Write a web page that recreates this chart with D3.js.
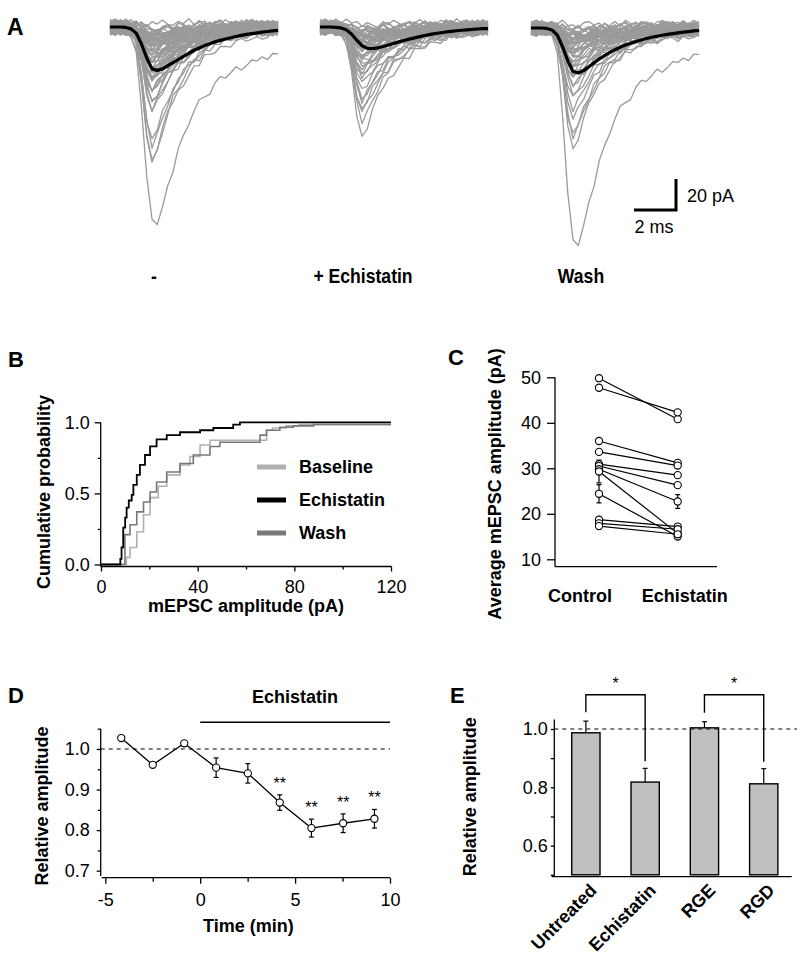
<!DOCTYPE html>
<html><head><meta charset="utf-8">
<script src="https://cdn.jsdelivr.net/npm/d3@7"></script>
<style>
body{margin:0;background:#fff}
svg text{font-family:"Liberation Sans",Arial,Helvetica,sans-serif;fill:#000}
</style></head><body>
<svg id="fig" width="800" height="957" xmlns="http://www.w3.org/2000/svg"></svg>
<script>
// ================= DATA =================
// Panel A: sample times (ms) of the mEPSC sweeps
const sweepTime = [0,0.25,0.5,0.75,1,1.25,1.5,1.75,2,2.25,2.5,2.75,3,3.25,3.5,3.75,4,4.25,4.5,4.75,5,5.25,5.5,5.75,6,6.25,6.5,6.75,7,7.25,7.5,7.75,8];
const sweepNames = ["-", "+ Echistatin", "Wash"];
// normalised waveforms of single events (fast and slow decaying)
const tplFast = [0,0,0,0,0.02,0.12,0.42,0.8,1,0.9,0.76,0.64,0.54,0.46,0.39,0.33,0.28,0.24,0.2,0.17,0.145,0.125,0.105,0.09,0.077,0.066,0.056,0.048,0.041,0.035,0.03,0.025,0.021];
const tplSlow = [0,0,0,0,0.02,0.12,0.4,0.78,0.98,1,0.92,0.82,0.72,0.63,0.55,0.48,0.42,0.38,0.34,0.31,0.28,0.26,0.24,0.22,0.2,0.19,0.18,0.17,0.16,0.15,0.14,0.13,0.12];
// average traces (pA, inward positive)
const meanBaseline   = [0,0,0,0.3,1.2,4,11,20,27,28,27,25,23,21,19,17,15,13.5,12,10.8,9.6,8.6,7.7,6.9,6.1,5.4,4.8,4.3,3.8,3.3,2.9,2.5,2.2];
const meanEchistatin = [0,0,0,0.2,0.6,1.8,4.5,8.5,12,13.8,14,13.5,12.6,11.6,10.6,9.6,8.7,7.8,7,6.2,5.5,4.8,4.2,3.7,3.2,2.8,2.4,2.1,1.8,1.5,1.3,1.1,1];
const meanWash       = [0,0,0,0.3,1.3,4.5,12,21,28,29,27.5,25,22.5,20,17.8,15.8,14,12.4,11,9.8,8.7,7.7,6.8,6,5.3,4.7,4.1,3.6,3.1,2.7,2.3,1.9,1.6];
// single event peak amplitudes (pA)
const ampFastBaseline   = [1,2,2,3,3,3,4,4,4,5,5,5,6,6,6,7,7,8,8,8,9,9,10,10,11,11,12,12,13,13,14,14,15,16,16,17,18,18,19,20,21,22,23,24,25,26,27,28,29,30,31,32,34,35,36,38,40,41,44,45,47,50,55,72,78,82,92];
const ampSlowBaseline   = [124];
const ampFastEchistatin = [1,2,2,3,3,3,4,4,4,5,5,5,6,6,6,7,7,7,8,8,8,9,9,10,10,11,11,12,12,13,14,15,16,17,18,19,20,22,24,26,28,30,33,36,40,44,48,52,56,60,68];
const ampSlowEchistatin = [22];
const ampFastWash       = [1,2,2,3,3,3,4,4,4,5,5,5,6,6,7,7,8,8,9,9,10,10,11,11,12,13,13,14,15,16,17,18,19,20,21,22,24,26,28,30,32,35,38,42,46,50,60,66,72,77];
const ampSlowWash       = [28,139];
// recording noise (pA)
const noise = [
 [0.8,-0.6,1.4,0.2,-1.1,0.9,-0.4,1.7,-0.9,0.3,-1.5,0.6,1.2,-0.7,0.4,-1.8,0.9,0.1,-0.6,1.5,-0.3,0.7,-1.2,0.5,1.1,-0.8,0.2,-1.4,0.8,0.3,-0.5,1.3,-0.2],
 [-1.2,0.4,-0.3,1.6,0.7,-1.5,0.2,-0.8,1.3,-0.4,0.9,2.1,-0.6,1.0,-1.1,0.3,1.7,-0.5,0.6,-1.3,0.8,-0.2,1.4,-0.9,0.1,1.2,-1.6,0.5,-0.3,1.0,-1.0,0.4,0.9],
 [0.3,1.5,-0.9,-0.2,1.1,0.4,-1.7,0.6,0.2,1.8,-0.7,-1.2,0.5,-0.3,2.0,0.8,-0.9,1.4,-1.5,0.2,1.1,-0.8,0.4,1.6,-0.6,-1.1,0.9,0.3,-0.4,1.2,0.6,-1.3,0.2],
 [-0.5,-1.3,0.6,1.0,-0.4,-0.9,1.5,0.3,-1.2,-0.6,1.4,0.5,-1.8,0.7,0.9,-0.5,-1.3,2.2,0.4,-0.7,-1.6,1.3,0.6,-0.9,1.7,0.2,-1.1,-0.4,1.5,-0.8,0.7,0.1,-0.9],
 [1.4,0.2,-1.1,0.8,1.6,-0.3,0.7,-1.4,0.5,1.2,0.1,-0.9,1.9,-1.2,-0.2,1.3,0.4,-1.6,0.9,2.4,-0.4,-1.5,1.0,0.3,-0.7,1.8,0.6,-1.2,0.2,-0.9,1.4,-0.6,0.5],
 [-0.2,0.9,0.5,-1.4,0.3,1.2,-0.6,-0.1,1.6,-1.3,0.4,0.8,-0.7,-1.5,1.1,0.6,-0.4,-1.0,1.8,0.5,-1.2,0.9,-0.5,1.3,-1.4,0.4,1.5,-0.6,-1.1,0.7,-0.3,1.1,-0.8],
 [1.1,-1.4,0.2,0.7,-0.5,1.9,-1.1,0.4,-0.2,-1.7,1.2,0.3,-0.8,1.6,-1.4,0.5,0.9,-0.3,-1.2,1.0,1.7,-0.6,-0.9,0.2,1.3,-1.5,-0.2,1.1,0.6,-1.3,0.9,-0.4,1.2]
];
const baseOffset = [-3.2,1.8,-1.0,2.8,-2.2,0.6,2.2,-0.3,1.2,-1.6,3.4];
const noiseGain = 1.35;
const scaleBarMs = 2, scaleBarPA = 20;

// Panel B: cumulative distributions (amplitude pA, probability)
const cdfBaselineX   = [0,9.9,10.5,12,14.8,17.6,20.3,23.7,27.2,32.7,36.8,41,45.1,66,68.5,71,76.5,82,120];
const cdfBaselineP   = [0,0,0.05,0.12,0.23,0.35,0.47,0.55,0.63,0.70,0.76,0.84,0.874,0.874,0.944,0.96,0.975,0.985,0.985];
const cdfEchistatinX = [0,7.5,8,8.5,9.2,10,10.6,11.5,12.7,13.4,14.8,16.1,18.2,20.3,23,27.2,32.7,41,46.5,54.7,57.5,120];
const cdfEchistatinP = [0,0,0.04,0.12,0.26,0.33,0.40,0.45,0.49,0.56,0.63,0.70,0.77,0.83,0.88,0.91,0.93,0.944,0.96,0.984,1,1];
const cdfWashX       = [0,8.1,9.9,12,14.8,17.6,20.3,23,27.2,32.7,38.2,45.1,49.2,64.4,65.8,68.5,74,79.5,88,120];
const cdfWashP       = [0,0,0.21,0.28,0.37,0.44,0.51,0.58,0.65,0.71,0.77,0.83,0.86,0.86,0.91,0.944,0.965,0.975,0.985,0.985];
const cdfNames = ["Baseline","Echistatin","Wash"];
const cdfTicksX = [0,40,80,120], cdfTicksY = [0,0.5,1];

// Panel C: paired cell averages (pA)
const pairCategories = ["Control","Echistatin"];
const pairControl    = [49.8,47.7,36.0,33.6,30.9,30.5,29.8,29.3,24.4,18.7,17.9,17.3];
const pairEchistatin = [40.8,42.3,31.2,30.6,28.5,26.3,22.7,15.7,15.0,17.2,16.6,15.5];
const pairControlErr    = [0,0,0,0,0,0,0,2.5,2.0,0,0,0];
const pairEchistatinErr = [0,0,0,0,0,0,1.5,0,0,0,0,0];
const pairTicks = [10,20,30,40,50];

// Panel D: time course
const timeMin  = [-4.16,-2.5,-0.84,0.84,2.51,4.19,5.86,7.53,9.18];
const timeRel  = [1.027,0.961,1.014,0.954,0.940,0.868,0.805,0.817,0.828];
const timeErr  = [0.003,0.003,0.006,0.024,0.024,0.019,0.022,0.023,0.023];
const timeSig  = ["","","","","","**","**","**","**"];
const timeTicksX = [-5,0,5,10], timeTicksY = [0.7,0.8,0.9,1.0];
const drugPeriod = [0,10];

// Panel E: bar chart
const barCats = ["Untreated","Echistatin","RGE","RGD"];
const barVals = [0.987,0.818,1.004,0.812];
const barErr  = [0.040,0.047,0.021,0.052];
const barComparisons = [[0,1,"*"],[2,3,"*"]];
const barTicksY = [0.6,0.8,1.0];

// ================= DRAWING =================
const svg = d3.select("#fig");
const fmt1 = d3.format(".1f");
const fmtInt = d => String(d);
const AX = 1.3;

function clean(g, fs){
  g.select(".domain").remove();
  g.attr("font-size", null).attr("font-family", null);
  g.selectAll("line").attr("stroke","#000").attr("stroke-width",AX);
  g.selectAll("text").attr("font-size", fs||18).attr("fill","#000");
}
function label(x,y,txt,opt){
  opt = opt||{};
  const g = svg.append("g").attr("transform",
     `translate(${x},${y})` + (opt.rotate!==undefined ? ` rotate(${opt.rotate})` : "") +
     (opt.sx ? ` scale(${opt.sx},1)` : ""));
  return g.append("text").attr("x",0).attr("y",0).text(txt)
    .attr("font-size",opt.size||18).attr("font-weight",opt.weight||"bold")
    .attr("text-anchor",opt.anchor||"start");
}
function vline(x,y1,y2,w){svg.append("line").attr("x1",x).attr("x2",x).attr("y1",y1).attr("y2",y2).attr("stroke","#000").attr("stroke-width",w||AX);}
function hline(y,x1,x2,w,dash){const l=svg.append("line").attr("x1",x1).attr("x2",x2).attr("y1",y).attr("y2",y).attr("stroke","#000").attr("stroke-width",w||AX); if(dash) l.attr("stroke-dasharray",dash); return l;}
function errBar(x,y0,y1,cap){
  svg.append("line").attr("x1",x).attr("x2",x).attr("y1",y0).attr("y2",y1).attr("stroke","#000").attr("stroke-width",1.2);
  svg.append("line").attr("x1",x-cap).attr("x2",x+cap).attr("y1",y1).attr("y2",y1).attr("stroke","#000").attr("stroke-width",1.2);
}

// ---------- Panel A ----------
label(7,35,"A",{size:23});
const sweeps = [
  {fast:ampFastBaseline, slow:ampSlowBaseline, mean:meanBaseline},
  {fast:ampFastEchistatin, slow:ampSlowEchistatin, mean:meanEchistatin},
  {fast:ampFastWash, slow:ampSlowWash, mean:meanWash}
];
const sweepX0 = [110,320,531], sweepY0 = [27,27,28], sweepLabelX = [154,363,581];
const gA = svg.append("g");
let sx3, sy3;
sweeps.forEach((s,k)=>{
  const sx = d3.scaleLinear().domain([0,8]).range([sweepX0[k], sweepX0[k]+168]);
  const sy = d3.scaleLinear().domain([0,20]).range([sweepY0[k], sweepY0[k]+31]);
  if(k===2){sx3=sx; sy3=sy;}
  const line = d3.line().x((d,i)=>sx(sweepTime[i])).y(d=>sy(d));
  const events = s.fast.map(a=>({a,tpl:tplFast})).concat(s.slow.map(a=>({a,tpl:tplSlow})));
  events.forEach((e,i)=>{
    const nz = noise[(i+k) % noise.length], off = baseOffset[i % baseOffset.length];
    const vals = e.tpl.map((v,j)=> e.a*v + noiseGain*nz[j] + off);
    gA.append("path").attr("d",line(vals)).attr("fill","none")
      .attr("stroke","#9a9a9a").attr("stroke-width",1.3).attr("stroke-linejoin","round");
  });
  gA.append("path").attr("d",line(s.mean)).attr("fill","none")
    .attr("stroke","#000").attr("stroke-width",3.2).attr("stroke-linejoin","round");
  label(sweepLabelX[k],283,sweepNames[k],{size:20,anchor:"middle",sx:0.88});
});
// scale bar
{
  const xr = 676, yb = 210;
  const w = sx3(scaleBarMs)-sx3(0), h = sy3(scaleBarPA)-sy3(0);
  svg.append("path").attr("d",`M${xr-w},${yb}H${xr}V${yb-h}`).attr("fill","none")
     .attr("stroke","#000").attr("stroke-width",3);
  label(xr+11,201.7,`${scaleBarPA} pA`,{weight:"normal"});
  label(xr-w/2-1,233.3,`${scaleBarMs} ms`,{weight:"normal",anchor:"middle"});
}

// ---------- Panel B ----------
label(8,367,"B",{size:22});
const xB = d3.scaleLinear().domain([0,120]).range([101,391]);
const yB = d3.scaleLinear().domain([0,1]).range([564.5,422.3]);
vline(100.7,yB(1),566.5);
hline(566.5,100.7,391.5);
svg.append("g").attr("transform","translate(100.7,0)")
  .call(d3.axisLeft(yB).tickValues(cdfTicksY).tickFormat(fmt1).tickSize(6).tickPadding(5)).call(g=>clean(g));
svg.append("g").attr("transform","translate(100.7,0)")
  .call(d3.axisLeft(yB).tickValues([0.25,0.75]).tickFormat("").tickSize(3)).call(g=>clean(g));
svg.append("g").attr("transform","translate(0,566.5)")
  .call(d3.axisBottom(xB).tickValues(cdfTicksX).tickFormat(fmtInt).tickSize(5).tickPadding(9)).call(g=>clean(g));
svg.append("g").attr("transform","translate(0,566.5)")
  .call(d3.axisBottom(xB).tickValues([20,60,100]).tickFormat("").tickSize(3)).call(g=>clean(g));
const cdfSeries = [
  {x:cdfBaselineX, p:cdfBaselineP, color:"#b0b0b0", w:1.6},
  {x:cdfWashX, p:cdfWashP, color:"#787878", w:1.6},
  {x:cdfEchistatinX, p:cdfEchistatinP, color:"#000", w:1.8}
];
const cdfLine = d3.line().curve(d3.curveStepAfter).x(d=>xB(d[0])).y(d=>yB(d[1]));
cdfSeries.forEach(s=>{
  svg.append("path").attr("d",cdfLine(s.x.map((v,i)=>[v,s.p[i]]))).attr("fill","none")
    .attr("stroke",s.color).attr("stroke-width",s.w);
});
const legendColors = ["#b0b0b0","#000","#787878"];
cdfNames.forEach((name,i)=>{
  const cy = 467 + i*33;
  svg.append("rect").attr("x",257).attr("y",cy-2.5).attr("width",29).attr("height",5).attr("fill",legendColors[i]);
  label(299,cy+5.8,name);
});
label(246,612,"mEPSC amplitude (pA)",{anchor:"middle"});
label(50,492,"Cumulative probability",{anchor:"middle",rotate:-90});

// ---------- Panel C ----------
label(448,365,"C",{size:22});
const xC = d3.scalePoint().domain(pairCategories).range([599,677.7]);
const yC = d3.scaleLinear().domain([10,50]).range([559.3,377.3]);
vline(555,yC(50),566.7);
hline(566.7,555,717);
svg.append("g").attr("transform","translate(555,0)")
  .call(d3.axisLeft(yC).tickValues(pairTicks).tickSize(8).tickPadding(6)).call(g=>clean(g));
pairControl.forEach((c,i)=>{
  svg.append("line").attr("x1",xC(pairCategories[0])).attr("y1",yC(c))
    .attr("x2",xC(pairCategories[1])).attr("y2",yC(pairEchistatin[i]))
    .attr("stroke","#000").attr("stroke-width",1.2);
});
[[pairControl,pairControlErr,0],[pairEchistatin,pairEchistatinErr,1]].forEach(([vals,errs,k])=>{
  const x = xC(pairCategories[k]);
  vals.forEach((v,i)=>{
    if(errs[i]>0){ errBar(x,yC(v),yC(v+errs[i]),2.5); errBar(x,yC(v),yC(v-errs[i]),2.5); }
  });
  vals.forEach(v=>{
    svg.append("circle").attr("cx",x).attr("cy",yC(v)).attr("r",3.6)
      .attr("fill","#fff").attr("stroke","#000").attr("stroke-width",1.1);
  });
});
label(xC(pairCategories[0])-19,601.7,pairCategories[0],{anchor:"middle"});
label(xC(pairCategories[1])+7,601.7,pairCategories[1],{anchor:"middle"});
label(501,484,"Average mEPSC amplitude (pA)",{anchor:"middle",rotate:-90});

// ---------- Panel D ----------
label(8,702.7,"D",{size:22});
const xD = d3.scaleLinear().domain([-5,10]).range([105.3,390]);
const yD = d3.scaleLinear().domain([0.7,1.0]).range([870.7,749]);
vline(100.7,yD(1.05),876);
hline(877.7,101.7,390);
svg.append("g").attr("transform","translate(100.7,0)")
  .call(d3.axisLeft(yD).tickValues(timeTicksY).tickFormat(fmt1).tickSize(4).tickPadding(7)).call(g=>clean(g));
svg.append("g").attr("transform","translate(100.7,0)")
  .call(d3.axisLeft(yD).tickValues([0.75,0.85,0.95,1.05]).tickFormat("").tickSize(3)).call(g=>clean(g));
svg.append("g").attr("transform","translate(0,877.7)")
  .call(d3.axisBottom(xD).tickValues(timeTicksX).tickFormat(fmtInt).tickSize(6).tickPadding(10)).call(g=>clean(g));
svg.append("g").attr("transform","translate(0,877.7)")
  .call(d3.axisBottom(xD).tickValues([-2.5,2.5,7.5]).tickSize(4).tickFormat("")).call(g=>clean(g));
hline(yD(1.0),100.7,390,1.2,"4,4");
hline(722.3,xD(drugPeriod[0]),xD(drugPeriod[1]),1.6);
label(xD(5),702.7,"Echistatin",{anchor:"middle"});
svg.append("path").attr("d",d3.line().x((d,i)=>xD(timeMin[i])).y(d=>yD(d))(timeRel))
  .attr("fill","none").attr("stroke","#000").attr("stroke-width",1.3);
timeRel.forEach((v,i)=>{
  const x = xD(timeMin[i]);
  errBar(x,yD(v),yD(v+timeErr[i]),2.5); errBar(x,yD(v),yD(v-timeErr[i]),2.5);
});
timeRel.forEach((v,i)=>{
  const x = xD(timeMin[i]);
  svg.append("circle").attr("cx",x).attr("cy",yD(v)).attr("r",3.6)
    .attr("fill","#fff").attr("stroke","#000").attr("stroke-width",1.1);
  if(timeSig[i]) label(x,yD(v+timeErr[i])-6,timeSig[i],{weight:"normal",size:16,anchor:"middle"});
});
label(248.3,931.7,"Time (min)",{anchor:"middle"});
label(48,806,"Relative amplitude",{anchor:"middle",rotate:-90});

// ---------- Panel E ----------
label(450,702.7,"E",{size:22});
const xE = d3.scaleBand().domain(barCats).range([556.9,792.7]).paddingInner(0.523).paddingOuter(0.25);
const yE = d3.scaleLinear().domain([0.5,1.0]).range([874.8,729]);
vline(554.3,yE(1.033),875.7);
hline(876.7,551.7,791.7);
svg.append("g").attr("transform","translate(554.3,0)")
  .call(d3.axisLeft(yE).tickValues(barTicksY).tickFormat(fmt1).tickSize(3.5).tickPadding(3)).call(g=>clean(g));
svg.append("g").attr("transform","translate(554.3,0)")
  .call(d3.axisLeft(yE).tickValues([0.5,0.7,0.9]).tickFormat("").tickSize(3.5)).call(g=>clean(g));
barCats.forEach((c,i)=>{
  const x = xE(c), bw = xE.bandwidth(), cx = x+bw/2;
  errBar(cx,yE(barVals[i]),yE(barVals[i]+barErr[i]),2.5);
  svg.append("rect").attr("x",x).attr("y",yE(barVals[i])).attr("width",bw)
    .attr("height",yE(0.5)-yE(barVals[i])).attr("fill","#c0c0c0").attr("stroke","#000").attr("stroke-width",1.4);
  label(cx+12,891.5,c,{anchor:"end",rotate:-45});
});
hline(yE(1.0),554.3,797,1.2,"4,4");
barComparisons.forEach(([a,b,s])=>{
  const xa = xE(barCats[a])+xE.bandwidth()/2, xb = xE(barCats[b])+xE.bandwidth()/2;
  const top = 694.7;
  const ya = yE(barVals[a]+barErr[a])-9, yb = yE(barVals[b]+barErr[b])-7;
  svg.append("path").attr("d",`M${xa},${ya}V${top}H${xb}V${yb}`).attr("fill","none")
    .attr("stroke","#000").attr("stroke-width",1.4);
  label((xa+xb)/2,689,s,{weight:"normal",size:16,anchor:"middle"});
});
label(476,796.7,"Relative amplitude",{anchor:"middle",rotate:-90});
</script>
</body></html>
